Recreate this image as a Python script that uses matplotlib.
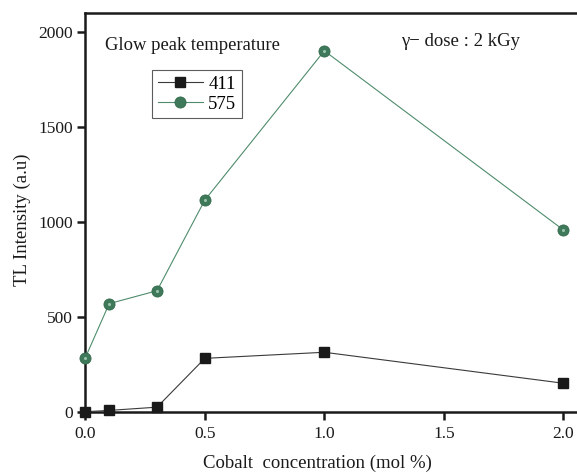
import matplotlib
matplotlib.use("Agg")
import matplotlib.pyplot as plt

conc = [0.0, 0.1, 0.3, 0.5, 1.0, 2.0]
peak_411 = [3, 10, 27, 284, 316, 153]
peak_575 = [287, 572, 640, 1117, 1903, 960]
series_labels = ["411", "575"]
x_ticks = [0.0, 0.5, 1.0, 1.5, 2.0]
y_ticks = [0, 500, 1000, 1500, 2000]

plt.rcParams['font.family'] = ['Liberation Serif', 'DejaVu Serif']

fig = plt.figure(figsize=(5.77, 4.72), dpi=100)
ax = fig.add_axes([85.3/577, 1-412.3/472, 1-85.3/577, (412.3-13)/472])

ax.plot(conc, peak_411, color='#3a3a3a', lw=0.8, marker='s', ms=7.5,
        mfc='#1a1a1a', mec='#1a1a1a', label=series_labels[0], clip_on=False, zorder=3)
ax.plot(conc, peak_575, color='#4f8c6c', lw=0.8, marker='o', ms=8,
        mfc='#3e7a5a', mec='#356a4e', mew=0.6, label=series_labels[1], clip_on=False, zorder=3)
# soft highlight on spheres
ax.plot(conc, peak_575, ls='none', marker='o', ms=2.2, mfc='#9cc4ae', mec='none',
        clip_on=False, zorder=4)

ax.set_xlim(0, 2.057)
ax.set_ylim(0, 2102)
ax.set_xticks(x_ticks)
ax.set_xticklabels([f"{v:.1f}" for v in x_ticks])
ax.set_yticks(y_ticks)
ax.tick_params(direction='out', length=6, width=1.8, labelsize=12.5, pad=4, colors='#1a1a1a')
ax.tick_params(axis='y', pad=3)
for s in ['left', 'bottom', 'top']:
    ax.spines[s].set_linewidth(1.8)
    ax.spines[s].set_color('#1a1a1a')
ax.spines['right'].set_visible(False)

ax.set_xlabel("Cobalt  concentration (mol %)", fontsize=13.5, color='#1a1a1a')
ax.set_ylabel("TL Intensity (a.u)", fontsize=13.5, color='#1a1a1a')
ax.xaxis.set_label_coords(317/577, 1-463/472, transform=fig.transFigure)
ax.xaxis.label.set_va('center')
ax.yaxis.set_label_coords(22/577, 1-220/472, transform=fig.transFigure)
ax.yaxis.label.set_va('center')

fig.text(105/577, 1-46/472, "Glow peak temperature", fontsize=13.4, va='center', ha='left', color='#1a1a1a')
fig.text(401/577, 1-42/472, "γ− dose : 2 kGy", fontsize=13.5, va='center', ha='left', color='#1a1a1a')

leg = ax.legend(loc='upper left', bbox_to_anchor=(152/577, 1-70/472), bbox_transform=fig.transFigure,
                frameon=True, fancybox=False, fontsize=13.5, handlelength=2.4, handletextpad=0.3,
                borderpad=0.3, labelspacing=0.15, borderaxespad=0)
leg.get_frame().set_edgecolor('#333333')
leg.get_frame().set_linewidth(0.8)

fig.savefig("out.png", dpi=100)
